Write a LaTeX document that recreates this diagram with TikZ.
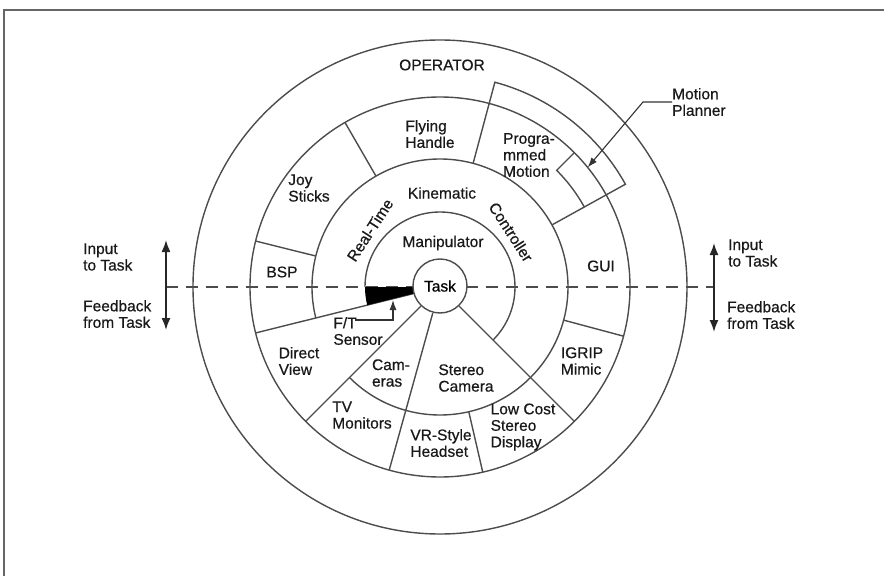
\documentclass[tikz,border=0pt]{standalone}
\usepackage{fontspec}
\setmainfont{Liberation Sans}
\newfontfamily\lblfont{Liberation Sans}[FakeBold=0.6]
\usetikzlibrary{arrows.meta}

\tikzset{
  ln/.style={draw=black!70, line width=1.4pt},
  lbl/.style={font=\lblfont\fontsize{15.5}{16.5}\selectfont, align=left, inner sep=0pt, text=black!90},
  tip/.style={-{Latex[length=10pt,width=7pt]}},
  bitip/.style={{Latex[length=12pt,width=9pt]}-{Latex[length=12pt,width=9pt]}},
}

\begin{document}
\begin{tikzpicture}[x=1pt,y=1pt]
        \useasboundingbox (-440,-289) rectangle (444,287);
        % frame
        \draw[black!60, line width=1.5pt] (444,277) -- (-436,277) -- (-436,-289);

        % input / feedback arrows
        \coordinate (lefttop) at (-274,47);
        \coordinate (leftbot) at (-274,-43);
        \coordinate (righttop) at (274,44);
        \coordinate (rightbot) at (274,-45);
        \coordinate (dashL) at (-274,0);
        \coordinate (dashR) at (274,0);
        \draw[ln, dash pattern=on 12pt off 8pt] (dashL) -- (dashR);
        \draw[black!85, line width=1.6pt, bitip] (leftbot) -- (lefttop);
        \draw[black!85, line width=1.6pt, bitip] (rightbot) -- (righttop);

        % rings
        \draw[ln] (0,0) circle (247); % operator
        \draw[ln] (0,0) circle (190); % devices
        \draw[ln] (225:128) arc (225:554:128); % controller ring
        \draw[ln] (-45:75) arc (-45:180:75); % manipulator
        % programmed motion extension
        \draw[ln] (75:190) -- (75:212) arc (75:29:212) -- (29:190);
        % motion planner box
        \draw[ln] (45:190) -- (45:165) arc (45:29:165);

        % spokes, device ring
        \foreach \a in {166,120,75,29,-15,283}
            \draw[ln] (\a:128) -- (\a:190);
        % spokes from the task
        \foreach \a in {194,225,254.5,315}
            \draw[ln] (\a:27) -- (\a:190);

        % force/torque wedge
        \fill[black] (180:27) arc (180:194:27) -- (194:75) arc (194:180:75) -- cycle;
        \node[circle, ln, fill=white, minimum size=54pt, inner sep=0pt,
              font=\lblfont\fontsize{15.5}{16.5}\selectfont] (task) at (0,1) {Task};

        % labels
        \node[lbl] (operator) at (2,222) {OPERATOR};
        \node[lbl] (flying) at (-10,153) {Flying\\Handle};
        \node[lbl] (progmot) at (89,132) {Progra-\\mmed\\Motion};
        \node[lbl] (joy) at (-131,99) {Joy\\Sticks};
        \node[lbl] (kinematic) at (2,94) {Kinematic};
        \node[lbl, rotate=57] (realtime) at (-70,57) {Real-Time};
        \node[lbl, rotate=-57] (controller) at (71,55) {Controller};
        \node[lbl] (manip) at (3,44) {Manipulator};
        \node[lbl] (bsp) at (-158,15) {BSP};
        \node[lbl] (gui) at (161,21) {GUI};
        \node[lbl] (ftsensor) at (-82,-44) {F/T\\Sensor};
        \node[lbl] (direct) at (-141,-74) {Direct\\View};
        \node[lbl] (cameras) at (-49,-86) {Cam-\\eras};
        \node[lbl] (stereo) at (26,-91) {Stereo\\Camera};
        \node[lbl] (igrip) at (142,-74) {IGRIP\\Mimic};
        \node[lbl] (tvmon) at (-78,-128) {TV\\Monitors};
        \node[lbl] (vrhead) at (1,-156) {VR-Style\\Headset};
        \node[lbl] (lowcost) at (83,-140) {Low Cost\\Stereo\\Display};
        \node[lbl, anchor=west] (planner) at (232,185) {Motion\\Planner};

        \node[lbl, anchor=west] (inL) at (-357,30) {Input\\to Task};
        \node[lbl, anchor=west] (fbL) at (-357,-27) {Feedback\\from Task};
        \node[lbl, anchor=west] (inR) at (288,34) {Input\\to Task};
        \node[lbl, anchor=west] (fbR) at (287,-28) {Feedback\\from Task};

        % leaders
        \coordinate (ftlead) at (-85,-33);
        \coordinate (fttip) at (-47,-13);
        \draw[black!80, line width=1.1pt, tip] (ftlead) -| (fttip);
        \coordinate (plannertip) at (39:190);
        \draw[black!80, line width=1.1pt, tip] (planner.west) -- ++(-29,0) -- (plannertip);
\end{tikzpicture}
\end{document}
